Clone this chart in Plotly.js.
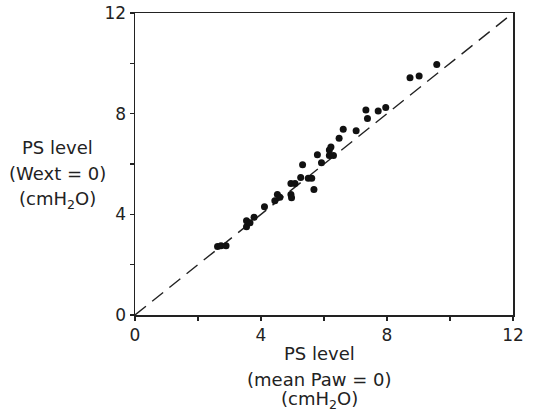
<!DOCTYPE html>
<html>
<head>
<meta charset="utf-8">
<script src="https://cdn.plot.ly/plotly-3.0.1.min.js"></script>
<style>html,body{margin:0;padding:0;background:#fff;}#chart{width:535px;height:413px;}</style>
</head>
<body>
<div id="chart"></div>
<script>
// PS level with mean Paw = 0 (x) vs PS level with Wext = 0 (y), cmH2O
const psMeanPaw = [2.62, 2.73, 2.89, 3.54, 3.54, 3.65, 3.78, 4.11, 4.44, 4.52, 4.60, 4.95, 4.97, 4.95, 5.08,
  5.26, 5.32, 5.50, 5.61, 5.68, 5.79, 5.92, 6.17, 6.22, 6.17, 6.30, 6.48, 6.61, 7.02, 7.33, 7.38, 7.72, 7.96,
  8.73, 9.02, 9.58];
const psWext = [2.72, 2.75, 2.75, 3.51, 3.75, 3.67, 3.88, 4.30, 4.54, 4.79, 4.68, 4.79, 4.66, 5.23, 5.23,
  5.46, 5.97, 5.43, 5.43, 4.99, 6.37, 6.05, 6.56, 6.68, 6.34, 6.34, 7.02, 7.38, 7.32, 8.15, 7.81, 8.11, 8.25,
  9.43, 9.50, 9.95];
const identityX = [0, 12];
const identityY = [0, 12];

const font = 'DejaVu Sans, Liberation Sans, sans-serif';

const traces = [
  {x: identityX, y: identityY, mode: 'lines', type: 'scatter',
   line: {color: '#222', width: 1.4, dash: '14px,8px'}, hoverinfo: 'skip'},
  {x: psMeanPaw, y: psWext, mode: 'markers', type: 'scatter',
   marker: {color: '#111', size: 7}}
];

const axisCommon = {
  range: [0, 12], tickmode: 'linear', tick0: 0, dtick: 4,
  showgrid: false, zeroline: false, showline: true, mirror: true,
  linecolor: '#222', linewidth: 1.5, ticks: 'outside', ticklen: 4,
  tickcolor: '#222', tickwidth: 1.3,
  minor: {tickmode: 'linear', tick0: 0, dtick: 2, ticks: 'outside', ticklen: 4,
          tickcolor: '#222', tickwidth: 1.3, showgrid: false},
  tickfont: {family: font, size: 17, color: '#222'}, fixedrange: true
};

function ann(text, x, y) {
  return {text: text, x: x, y: y, xref: 'paper', yref: 'paper', showarrow: false,
    xanchor: 'center', yanchor: 'middle', font: {family: font, size: 18, color: '#222'}};
}

const layout = {
  width: 535, height: 413,
  margin: {l: 135, r: 22, t: 13, b: 98},
  paper_bgcolor: '#fff', plot_bgcolor: '#fff',
  showlegend: false,
  xaxis: Object.assign({}, axisCommon),
  yaxis: Object.assign({}, axisCommon),
  annotations: [
    ann('PS level', -0.206, 0.556),
    ann('(Wext = 0)', -0.206, 0.470),
    ann('(cmH<sub>2</sub>O)', -0.206, 0.381),
    ann('PS level', 0.489, -0.126),
    ann('(mean Paw = 0)', 0.489, -0.212),
    ann('(cmH<sub>2</sub>O)', 0.489, -0.283)
  ]
};

Plotly.newPlot('chart', traces, layout, {displayModeBar: false, staticPlot: true});
</script>
</body>
</html>
